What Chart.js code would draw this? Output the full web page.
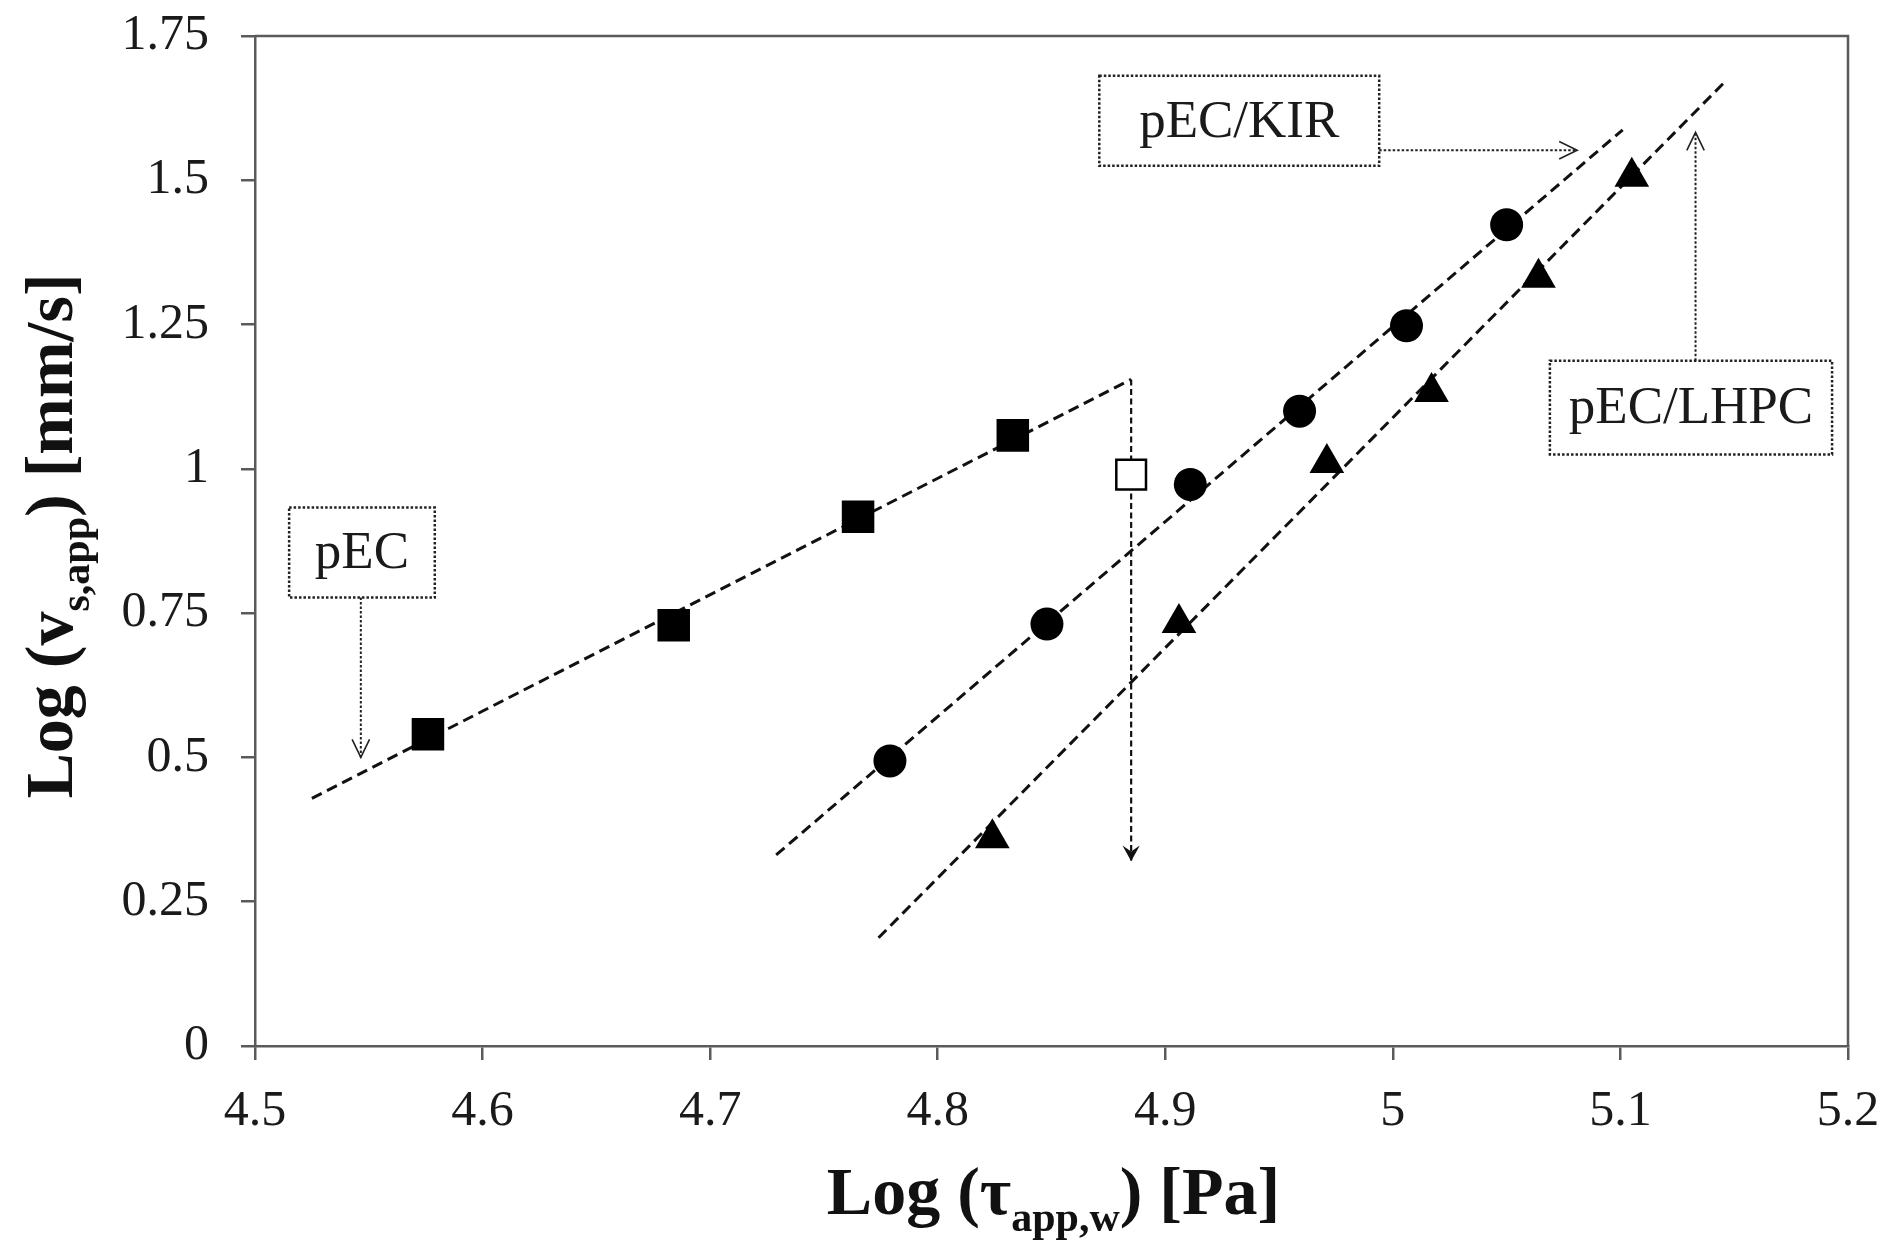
<!DOCTYPE html>
<html><head><meta charset="utf-8">
<script src="https://cdn.jsdelivr.net/npm/chart.js@4.4.1/dist/chart.umd.min.js"></script>
<style>html,body{margin:0;padding:0;background:#fff}#wrap{width:1885px;height:1241px}</style>
</head><body><div id="wrap"><canvas id="c" width="1885" height="1241"></canvas></div>
<script>
// ---- data ----
const pecX = [4.576, 4.684, 4.765, 4.833];
const pecY = [0.540, 0.729, 0.917, 1.058];
const pecOpenX = [4.885];
const pecOpenY = [0.990];
const kirX = [4.779, 4.848, 4.911, 4.959, 5.006, 5.050];
const kirY = [0.494, 0.731, 0.973, 1.100, 1.248, 1.423];
const lhpcX = [4.824, 4.906, 4.971, 5.017, 5.064, 5.105];
const lhpcY = [0.360, 0.733, 1.010, 1.133, 1.331, 1.506];
const pecFitX = [4.525, 4.885];
const pecFitY = [0.429, 1.155];
const pecDropX = [4.885, 4.885];
const pecDropY = [1.155, 0.320];
const kirFitX = [4.729, 5.101];
const kirFitY = [0.331, 1.5875];
const lhpcFitX = [4.774, 5.146];
const lhpcFitY = [0.1875, 1.671];
const xTickValues = [4.5, 4.6, 4.7, 4.8, 4.9, 5.0, 5.1, 5.2];
const xTickLabels = ['4.5', '4.6', '4.7', '4.8', '4.9', '5', '5.1', '5.2'];
const yTickValues = [0, 0.25, 0.5, 0.75, 1, 1.25, 1.5, 1.75];
const yTickLabels = ['0', '0.25', '0.5', '0.75', '1', '1.25', '1.5', '1.75'];
const boxTexts = ['pEC', 'pEC/KIR', 'pEC/LHPC'];

// ---- annotation layout (data units) ----
const boxes = [
  {x0: 4.515, x1: 4.579, y0: 0.777, y1: 0.933, ax0: 4.5465, ay0: 0.777, ax1: 4.5465, ay1: 0.50},
  {x0: 4.871, x1: 4.994, y0: 1.525, y1: 1.681, ax0: 4.994, ay0: 1.552, ax1: 5.081, ay1: 1.552},
  {x0: 5.069, x1: 5.193, y0: 1.025, y1: 1.1875, ax0: 5.133, ay0: 1.1875, ax1: 5.133, ay1: 1.583}
];

const zip = (xs, ys) => xs.map((x, i) => ({x, y: ys[i]}));
const FONT = "'Liberation Serif', 'Times New Roman', serif";
const AXC = '#5a5a5a';

function openHead(ctx, x0, y0, x1, y1, len) {
  const a = Math.atan2(y1 - y0, x1 - x0);
  ctx.beginPath();
  ctx.moveTo(x1 - len * Math.cos(a - 0.45), y1 - len * Math.sin(a - 0.45));
  ctx.lineTo(x1, y1);
  ctx.lineTo(x1 - len * Math.cos(a + 0.45), y1 - len * Math.sin(a + 0.45));
  ctx.stroke();
}
function filledHead(ctx, x0, y0, x1, y1, len) {
  const a = Math.atan2(y1 - y0, x1 - x0);
  const bx = x1 - len * 0.55 * Math.cos(a), by = y1 - len * 0.55 * Math.sin(a);
  ctx.beginPath();
  ctx.moveTo(x1, y1);
  ctx.lineTo(x1 - len * Math.cos(a - 0.5), y1 - len * Math.sin(a - 0.5));
  ctx.lineTo(bx, by);
  ctx.lineTo(x1 - len * Math.cos(a + 0.5), y1 - len * Math.sin(a + 0.5));
  ctx.closePath();
  ctx.fill();
}

function drawSubText(ctx, parts, x, y) {
  const mainF = 'bold 68px ' + FONT, subF = 'bold 42px ' + FONT;
  let total = 0;
  parts.forEach(p => { ctx.font = p[1] ? subF : mainF; total += ctx.measureText(p[0]).width; });
  let cx = x - total / 2;
  ctx.textAlign = 'left';
  ctx.textBaseline = 'alphabetic';
  parts.forEach(p => {
    ctx.font = p[1] ? subF : mainF;
    ctx.fillText(p[0], cx, y + (p[1] ? 17 : 0));
    cx += ctx.measureText(p[0]).width;
  });
}

const decor = {
  id: 'decor',
  afterDatasetsDraw(chart) {
    const {ctx, chartArea: ca, scales: {x, y}} = chart;
    ctx.save();
    // frame top & right
    ctx.strokeStyle = AXC; ctx.lineWidth = 2.5; ctx.setLineDash([]);
    ctx.beginPath();
    ctx.moveTo(ca.left, ca.top); ctx.lineTo(ca.right, ca.top); ctx.lineTo(ca.right, ca.bottom);
    ctx.stroke();
    // arrowhead at bottom of drop line
    ctx.fillStyle = '#111';
    const dx = x.getPixelForValue(pecDropX[1]), dy = y.getPixelForValue(pecDropY[1]);
    const ux = x.getPixelForValue(pecDropX[0]), uy = y.getPixelForValue(pecDropY[0]);
    filledHead(ctx, ux, uy, dx, dy, 18);
    // annotation boxes
    boxes.forEach((b, i) => {
      const L = x.getPixelForValue(b.x0), R = x.getPixelForValue(b.x1);
      const T = y.getPixelForValue(b.y1), B = y.getPixelForValue(b.y0);
      ctx.setLineDash([2.5, 2]);
      ctx.strokeStyle = '#222'; ctx.lineWidth = 2.5;
      ctx.strokeRect(L, T, R - L, B - T);
      ctx.fillStyle = '#1a1a1a';
      ctx.font = '53px ' + FONT;
      ctx.textAlign = 'center'; ctx.textBaseline = 'middle';
      ctx.fillText(boxTexts[i], (L + R) / 2, (T + B) / 2 + 2);
      const ax0 = x.getPixelForValue(b.ax0), ay0 = y.getPixelForValue(b.ay0);
      const ax1 = x.getPixelForValue(b.ax1), ay1 = y.getPixelForValue(b.ay1);
      ctx.lineWidth = 2;
      ctx.beginPath(); ctx.moveTo(ax0, ay0); ctx.lineTo(ax1, ay1); ctx.stroke();
      ctx.setLineDash([]);
      ctx.lineWidth = 1.6;
      openHead(ctx, ax0, ay0, ax1, ay1, 20);
    });
    // axis titles
    ctx.fillStyle = '#111';
    drawSubText(ctx, [['Log (\u03C4', false], ['app,w', true], [') [Pa]', false]], (ca.left + ca.right) / 2 + 2, 1214);
    ctx.save();
    ctx.translate(72, (ca.top + ca.bottom) / 2 - 5);
    ctx.rotate(-Math.PI / 2);
    drawSubText(ctx, [['Log (v', false], ['s,app', true], [') [mm/s]', false]], 0, 0);
    ctx.restore();
    ctx.restore();
  }
};

const fitStyle = {type: 'line', showLine: true, pointRadius: 0, borderColor: '#111', borderWidth: 3, borderDash: [11, 6], fill: false, order: 5};

new Chart(document.getElementById('c'), {
  type: 'scatter',
  data: {
    datasets: [
      Object.assign({label: 'pEC fit', data: zip(pecFitX, pecFitY)}, fitStyle),
      Object.assign({}, fitStyle, {label: 'pEC drop', data: zip(pecDropX, pecDropY), borderWidth: 2.2, borderDash: [6, 3.5]}),
      Object.assign({label: 'pEC/KIR fit', data: zip(kirFitX, kirFitY)}, fitStyle),
      Object.assign({label: 'pEC/LHPC fit', data: zip(lhpcFitX, lhpcFitY)}, fitStyle),
      {label: 'pEC', data: zip(pecX, pecY), pointStyle: 'rect', pointRadius: 23, backgroundColor: '#000', borderColor: '#000', borderWidth: 0, order: 1},
      {label: 'pEC (open)', data: zip(pecOpenX, pecOpenY), pointStyle: 'rect', pointRadius: 21, backgroundColor: '#fff', borderColor: '#000', borderWidth: 2.5, order: 1},
      {label: 'pEC/KIR', data: zip(kirX, kirY), pointStyle: 'circle', pointRadius: 16.5, backgroundColor: '#000', borderColor: '#000', borderWidth: 0, order: 1},
      {label: 'pEC/LHPC', data: zip(lhpcX, lhpcY), pointStyle: 'triangle', pointRadius: 20, backgroundColor: '#000', borderColor: '#000', borderWidth: 0, order: 1}
    ]
  },
  options: {
    responsive: false,
    animation: false,
    devicePixelRatio: 1,
    layout: {padding: {left: 0, top: 36, right: 37, bottom: 0}},
    plugins: {legend: {display: false}, tooltip: {enabled: false}, title: {display: false}},
    scales: {
      x: {
        type: 'linear', min: 4.5, max: 5.2,
        afterBuildTicks: s => { s.ticks = xTickValues.map(v => ({value: v})); },
        afterFit: s => { s.height = 195; s.paddingLeft = 0; s.paddingRight = 0; },
        ticks: {callback: (v, i) => xTickLabels[i], font: {family: FONT, size: 50}, color: '#1a1a1a', padding: 22, maxRotation: 0, autoSkip: false},
        grid: {drawOnChartArea: false, drawTicks: true, tickLength: 14, color: AXC, lineWidth: 2.5},
        border: {display: true, color: AXC, width: 2.5}
      },
      y: {
        type: 'linear', min: 0, max: 1.75,
        afterBuildTicks: s => { s.ticks = yTickValues.map(v => ({value: v})); },
        afterFit: s => { s.width = 255; s.paddingTop = 0; s.paddingBottom = 0; },
        ticks: {callback: (v, i) => yTickLabels[i], font: {family: FONT, size: 50}, color: '#1a1a1a', padding: 32, autoSkip: false},
        grid: {drawOnChartArea: false, drawTicks: true, tickLength: 14, color: AXC, lineWidth: 2.5},
        border: {display: true, color: AXC, width: 2.5}
      }
    }
  },
  plugins: [decor]
});
</script></body></html>
